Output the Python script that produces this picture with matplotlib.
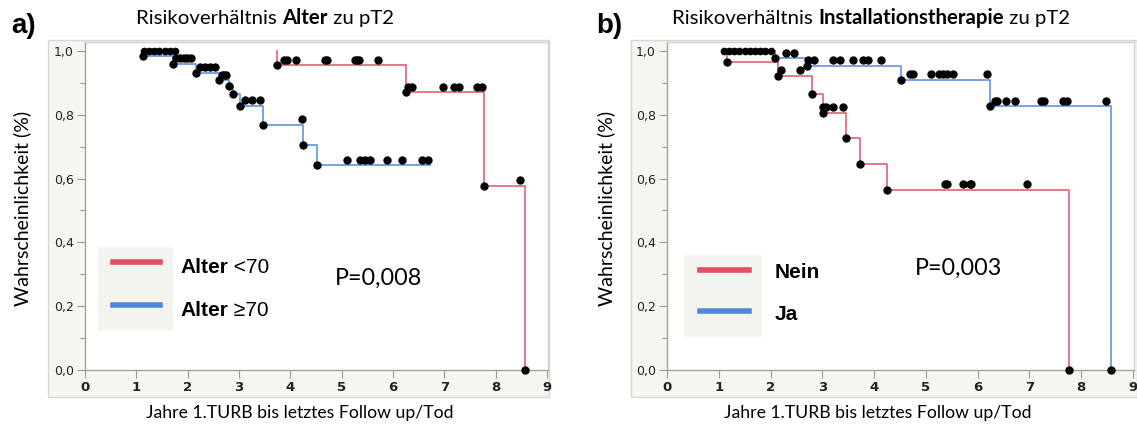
import matplotlib
matplotlib.use('Agg')
import matplotlib.pyplot as plt
from matplotlib.patches import Rectangle
from matplotlib.lines import Line2D
from matplotlib.transforms import offset_copy
import numpy as np

# ---------------- data ----------------
# Panel a) Alter
a_red_ev_t = [3.74, 6.26, 7.77, 8.57]
a_red_ev_s = [0.955, 0.870, 0.578, 0.0]
a_red_cen_t = [1.15, 1.25, 1.35, 1.45, 1.55, 1.65, 1.75, 3.87, 3.93, 4.12, 4.68, 4.72, 5.26,
               5.30, 5.34, 5.70, 6.30, 6.37, 6.97, 7.19, 7.28, 7.63, 7.73, 8.48]
a_red_end = 8.57

a_blue_ev_t = [1.13, 1.72, 2.16, 2.62, 2.81, 2.88, 3.02, 3.46, 4.24, 4.52]
a_blue_ev_s = [0.984, 0.960, 0.932, 0.908, 0.891, 0.865, 0.828, 0.769, 0.705, 0.641]
a_blue_cen_t = [1.78, 1.85, 1.92, 1.99, 2.06, 2.24, 2.34, 2.44, 2.53, 2.66, 2.70, 2.75,
                3.12, 3.25, 3.41, 4.23, 5.10, 5.36, 5.46, 5.56, 5.88, 6.17, 6.56, 6.69]
a_blue_end = 6.73

# Panel b) Installationstherapie
b_red_ev_t = [1.15, 2.15, 2.81, 3.01, 3.46, 3.73, 4.24, 7.77]
b_red_ev_s = [0.964, 0.922, 0.865, 0.807, 0.726, 0.646, 0.565, 0.0]
b_red_cen_t = [2.21, 2.57, 3.02, 3.08, 3.21, 3.40, 5.37, 5.40, 5.71, 5.85, 5.88, 6.96]
b_red_end = 7.77

b_blue_ev_t = [2.08, 2.70, 4.51, 6.24, 8.57]
b_blue_ev_s = [0.977, 0.953, 0.909, 0.826, 0.0]
b_blue_cen_t = [1.10, 1.20, 1.30, 1.40, 1.50, 1.60, 1.70, 1.80, 1.90, 2.00, 2.30, 2.45,
                2.73, 2.83, 3.21, 3.34, 3.60, 3.79, 3.88, 4.14,
                4.69, 4.76, 5.09, 5.25, 5.33, 5.40, 5.52, 6.18,
                6.33, 6.38, 6.55, 6.72, 7.23, 7.28, 7.65, 7.72, 8.47]
b_blue_end = 8.57

x_ticks = list(range(0, 10))
y_ticks = [0.0, 0.2, 0.4, 0.6, 0.8, 1.0]
y_ticklabels = ['0,0', '0,2', '0,4', '0,6', '0,8', '1,0']

RED = '#e56e7c'
BLUE = '#6a9be6'
RED_LEG = '#dc5264'
BLUE_LEG = '#4f86dc'
FRAME = '#f6f6f1'

W, H = 1137, 428
fig = plt.figure(figsize=(W / 100, H / 100), dpi=100)


def fx(px):
    return px / W


def fy(py):
    return 1 - py / H


# panel frames (behind the axes)
for x0, x1 in [(48, 549), (631, 1137)]:
    fig.patches.append(Rectangle((fx(x0), fy(397)), fx(x1) - fx(x0), fy(40) - fy(397),
                                 transform=fig.transFigure, facecolor=FRAME,
                                 edgecolor='#d6d6d2', lw=1.0, zorder=-10))


def step_value(ev_t, ev_s, t):
    v = 1.0
    for et, es in zip(ev_t, ev_s):
        if et <= t:
            v = es
    return v


def km(ax, ev_t, ev_s, cen_t, end_t, color):
    t = [ev_t[0]] + list(ev_t) + [end_t]
    s = [1.0] + list(ev_s) + [ev_s[-1]]
    ax.step(t, s, where='post', color=color, lw=1.3, zorder=2, clip_on=False)
    ax.plot(ev_t, ev_s, 'o', color='k', ms=5, zorder=3, clip_on=False)
    cs = [step_value(ev_t, ev_s, c) for c in cen_t]
    top_t = [c for c, v in zip(cen_t, cs) if v >= 1.0]
    top_s = [v for v in cs if v >= 1.0]
    low_t = [c for c, v in zip(cen_t, cs) if v < 1.0]
    low_s = [v for v in cs if v < 1.0]
    off = offset_copy(ax.transData, fig=fig, x=0, y=4, units='points')
    ax.plot(low_t, low_s, 'o', color='k', ms=5, zorder=3, transform=off, clip_on=False)
    ax.plot(top_t, top_s, 'o', color='k', ms=4.5, zorder=3, clip_on=False)


def setup_axes(ax, xmax):
    ax.set_zorder(1)
    ax.set_xlim(0, xmax)
    ax.set_ylim(0, 1.028)
    ax.set_facecolor('white')
    ax.set_xticks(x_ticks)
    ax.set_xticklabels([str(v) for v in x_ticks], fontsize=9.5, fontweight='bold',
                       family='DejaVu Sans', color='#222222')
    ax.set_yticks(y_ticks)
    ax.set_yticklabels(y_ticklabels, fontsize=9, family='DejaVu Sans', color='#222222')
    ax.set_yticks(np.arange(0.1, 1.0, 0.2), minor=True)
    ax.tick_params(axis='both', which='major', length=6, width=0.8, color='#999999', pad=2)
    ax.tick_params(axis='y', which='minor', length=3.5, width=0.8, color='#999999')
    for sp in ['left', 'bottom']:
        ax.spines[sp].set_color('#a0a0a0')
        ax.spines[sp].set_linewidth(1.0)
    for sp in ['top', 'right']:
        ax.spines[sp].set_color('#d0d0cc')
        ax.spines[sp].set_linewidth(1.0)


def layout_rich(artists, cx_px, y_base):
    r = fig.canvas.get_renderer()
    widths = [a.get_window_extent(r).width for a in artists]
    total = sum(widths)
    x = cx_px - total / 2
    for a, w in zip(artists, widths):
        a.set_position((x / W, y_base))
        x += w


# axes
axa = fig.add_axes([fx(85), fy(370), fx(548) - fx(85), fy(42) - fy(370)])
setup_axes(axa, 9.0 * (548 - 85) / (547 - 85))
km(axa, a_blue_ev_t, a_blue_ev_s, a_blue_cen_t, a_blue_end, BLUE)
km(axa, a_red_ev_t, a_red_ev_s, a_red_cen_t, a_red_end, RED)

axb = fig.add_axes([fx(667), fy(370), fx(1134) - fx(667), fy(42) - fy(370)])
setup_axes(axb, 9.0 * (1134 - 667) / (1133 - 667))
km(axb, b_blue_ev_t, b_blue_ev_s, b_blue_cen_t, b_blue_end, BLUE)
km(axb, b_red_ev_t, b_red_ev_s, b_red_cen_t, b_red_end, RED)

# axis labels
for cx in [300, 878]:
    fig.text(fx(cx), fy(413), 'Jahre 1.TURB bis letztes Follow up/Tod', fontsize=12.7,
             family='Lato', ha='center', va='center')
for cx in [22, 606]:
    fig.text(fx(cx), fy(208), 'Wahrscheinlichkeit (%)', fontsize=14, family='Lato',
             ha='center', va='center', rotation=90)

# p-values
fig.text(fx(335), fy(278), 'P=0,008', fontsize=16.8, family='Lato', va='center', ha='left')
fig.text(fx(915), fy(268), 'P=0,003', fontsize=16.8, family='Lato', va='center', ha='left')

# legends
r = fig.canvas.get_renderer()
for (bx0, bx1, by0, by1, lx0, lx1, ly1, ly2, tx, boff, labels) in [
        (98, 173, 247, 330, 113, 160, 262, 305, 180, 11,
         [[('Alter', 'bold'), (' <70', 'normal')], [('Alter', 'bold'), (' \u226570', 'normal')]]),
        (684, 762, 255, 337, 700, 749, 270, 311, 775, 8.5,
         [[('Nein', 'bold')], [('Ja', 'bold')]])]:
    fig.patches.append(Rectangle((fx(bx0), fy(by1)), fx(bx1) - fx(bx0), fy(by0) - fy(by1),
                                 transform=fig.transFigure, facecolor='#f4f4ee',
                                 edgecolor='none', zorder=5))
    for ly, col, lab in [(ly1, RED_LEG, labels[0]), (ly2, BLUE_LEG, labels[1])]:
        fig.add_artist(Line2D([fx(lx0), fx(lx1)], [fy(ly), fy(ly)], color=col, lw=4,
                              transform=fig.transFigure, zorder=6))
        x = fx(tx)
        for txt, wt in lab:
            t = fig.text(x, fy(ly + boff), txt, fontsize=15, fontweight=wt,
                         family='Liberation Sans', ha='left', va='baseline', zorder=7)
            x += t.get_window_extent(r).width / W

# panel labels
fig.text(fx(11), fy(33), 'a)', fontsize=20, fontweight='bold', family='Liberation Sans')
fig.text(fx(596), fy(33), 'b)', fontsize=20, fontweight='bold', family='Liberation Sans')

# titles
ta = [fig.text(0, 0, s, fontsize=14.7, fontweight=w, family='Lato', va='baseline')
      for s, w in [('Risikoverhältnis ', 'normal'), ('Alter', 'bold'), (' zu pT2', 'normal')]]
layout_rich(ta, 265, fy(24))
tb = [fig.text(0, 0, s, fontsize=14.7, fontweight=w, family='Lato', va='baseline')
      for s, w in [('Risikoverhältnis ', 'normal'), ('Installationstherapie', 'bold'),
                   (' zu pT2', 'normal')]]
layout_rich(tb, 871, fy(24))

fig.savefig('out.png', dpi=100)
